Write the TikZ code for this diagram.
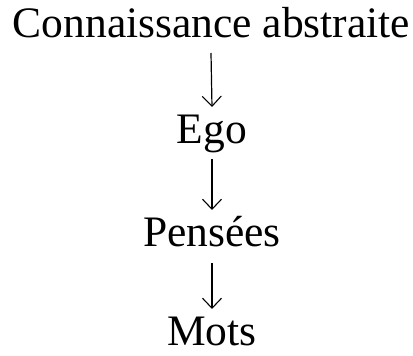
\documentclass[tikz,border=0pt]{standalone}
\usepackage{fontspec}
\setmainfont{Liberation Serif}
\usetikzlibrary{arrows.meta}
\begin{document}
\begin{tikzpicture}[x=1pt,y=1pt,
  lbl/.style={anchor=base,inner sep=0pt,text depth=0pt,font=\fontsize{43.5}{50}\selectfont},
  arr/.style={line width=1.2pt,-{Straight Barb[length=10pt,width=19pt,line width=1.1pt]}}]
\useasboundingbox (0,0) rectangle (413,356);
\node[lbl] (a) at (211.5,318) {Connaissance abstraite};
\node[lbl] (b) at (212,212) {Ego};
\node[lbl] (c) at (212,109) {Pensées};
\node[lbl] (d) at (212,10) {Mots};
\draw[arr] ([xshift=-0.5pt,yshift=-15pt]a.base) -- ([yshift=37pt]b.base);
\draw[arr] ([yshift=-15pt]b.base) -- ([yshift=37pt]c.base);
\draw[arr] ([yshift=-16pt]c.base) -- ([yshift=37pt]d.base);
\end{tikzpicture}
\end{document}
